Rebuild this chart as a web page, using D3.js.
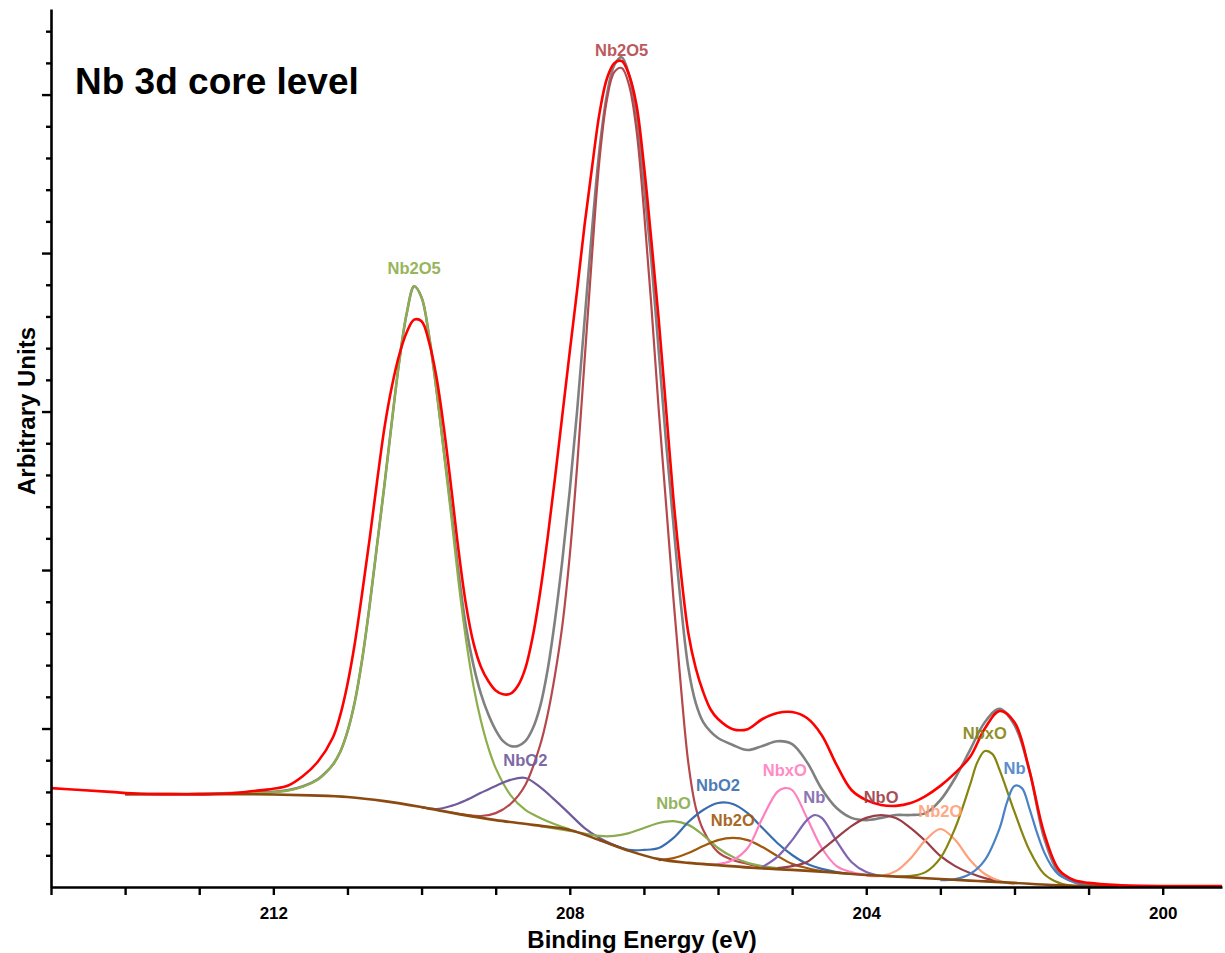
<!DOCTYPE html>
<html>
<head>
<meta charset="utf-8">
<script src="https://cdn.jsdelivr.net/npm/d3@7"></script>
<style>
  body { margin: 0; background: #fff; }
  svg { display: block; }
</style>
</head>
<body>
<svg width="1225" height="953"></svg>
<script>
// Binding energy (eV) vs intensity (arbitrary units)

const xTickLabels = [212, 208, 204, 200];

// measured spectrum (red)
const measured = [
  [215, 3.12], [214.6, 3.06], [214.2, 3.0], [213.8, 2.94], [213.4, 2.93], [213, 2.93],
  [212.6, 2.95], [212.3, 3.02], [212, 3.1], [211.8, 3.2], [211.6, 3.5], [211.4, 3.95],
  [211.2, 4.7], [211.1, 5.4], [211, 6.4], [210.9, 7.7], [210.8, 9.3], [210.7, 11.0],
  [210.6, 12.8], [210.5, 14.5], [210.4, 15.8], [210.3, 16.8], [210.2, 17.5], [210.1, 17.9],
  [210, 17.85], [209.9, 17.2], [209.8, 16.1], [209.7, 14.5], [209.6, 12.6], [209.5, 10.6],
  [209.4, 8.9], [209.3, 7.7], [209.2, 6.95], [209.1, 6.5], [209, 6.2], [208.9, 6.08],
  [208.8, 6.1], [208.7, 6.35], [208.6, 6.9], [208.5, 7.9], [208.4, 9.3], [208.3, 11.0],
  [208.2, 12.9], [208.1, 14.9], [208, 16.9], [207.9, 18.85], [207.8, 20.9], [207.7, 22.7],
  [207.6, 24.4], [207.5, 25.5], [207.4, 25.99], [207.3, 26.06], [207.2, 25.62], [207.1, 24.67],
  [207, 22.77], [206.9, 20.41], [206.8, 17.89], [206.7, 15.05], [206.6, 12.2], [206.5, 9.9],
  [206.4, 8.0], [206.3, 6.9], [206.2, 6.15], [206.1, 5.6], [206, 5.3], [205.8, 4.98],
  [205.6, 4.98], [205.4, 5.3], [205.2, 5.49], [205, 5.52], [204.8, 5.33], [204.6, 4.79],
  [204.4, 3.85], [204.2, 3.06], [204, 2.74], [203.8, 2.59], [203.6, 2.56], [203.4, 2.65],
  [203.2, 2.87], [203, 3.19], [202.8, 3.6], [202.6, 4.1], [202.4, 5.0], [202.2, 5.55],
  [202, 5.2], [201.8, 3.69], [201.6, 1.7], [201.4, 0.54], [201.2, 0.22], [201, 0.13],
  [200.6, 0.06], [200, 0.03], [199.2, 0.03]
];

// fitted envelope (grey)
const envelope = [
  [214, 2.93], [213, 2.93], [212.5, 2.97], [212, 3.0], [211.8, 3.06], [211.6, 3.18],
  [211.4, 3.4], [211.3, 3.6], [211.2, 3.85], [211.1, 4.25], [211, 4.9], [210.9, 5.85],
  [210.8, 7.2], [210.7, 8.9], [210.6, 10.8], [210.5, 12.7], [210.4, 14.7], [210.3, 16.6],
  [210.2, 18.1], [210.1, 18.95], [210, 18.6], [209.9, 17.4], [209.8, 15.7], [209.7, 13.8],
  [209.6, 11.9], [209.5, 9.9], [209.4, 8.2], [209.3, 7.0], [209.2, 6.1], [209.1, 5.45],
  [209, 4.95], [208.9, 4.6], [208.8, 4.45], [208.7, 4.45], [208.6, 4.6], [208.5, 5.0],
  [208.4, 5.7], [208.3, 6.84], [208.2, 8.42], [208.1, 10.32], [208, 12.52], [207.9, 15.05],
  [207.8, 17.89], [207.7, 20.73], [207.6, 23.25], [207.5, 24.98], [207.4, 25.93], [207.3, 26.18],
  [207.2, 25.62], [207.1, 24.35], [207, 22.15], [206.9, 19.78], [206.8, 16.9], [206.7, 14.0],
  [206.6, 11.4], [206.5, 8.9], [206.4, 6.9], [206.3, 5.8], [206.2, 5.2], [206.1, 4.9],
  [206, 4.7], [205.8, 4.48], [205.6, 4.32], [205.4, 4.45], [205.2, 4.6], [205, 4.51],
  [204.8, 3.94], [204.6, 3.09], [204.4, 2.49], [204.2, 2.18], [204, 2.11], [203.8, 2.18],
  [203.6, 2.27], [203.4, 2.27], [203.2, 2.33], [203, 2.74], [202.8, 3.44], [202.6, 4.32],
  [202.4, 5.2], [202.2, 5.62], [202, 5.11], [201.8, 3.69], [201.6, 1.55], [201.4, 0.44],
  [201.2, 0.16], [201, 0.06], [200.6, 0.03]
];

// Shirley-type background (brown)
const background = [
  [214, 2.93], [213.5, 2.93], [213, 2.93], [212.5, 2.93], [212, 2.92], [211.5, 2.89],
  [211, 2.84], [210.5, 2.71], [210, 2.52], [209.5, 2.3], [209, 2.11], [208.5, 1.96],
  [208, 1.8], [207.6, 1.48], [207.2, 1.14], [206.8, 0.88], [206.4, 0.76], [206, 0.69],
  [205.5, 0.6], [205, 0.54], [204.5, 0.47], [204, 0.38], [203.5, 0.32], [203, 0.25],
  [202.5, 0.19], [202, 0.13], [201.5, 0.06], [201, 0.03], [200.6, 0.02]
];

// fitted components (each drawn on top of the background)
const nb2o5High = [
  [213, 2.93], [212.5, 2.95], [212, 2.99], [211.8, 3.04], [211.6, 3.16], [211.4, 3.38],
  [211.3, 3.58], [211.2, 3.85], [211.1, 4.25], [211, 4.9], [210.9, 5.85], [210.8, 7.2],
  [210.7, 8.9], [210.6, 10.8], [210.5, 12.7], [210.4, 14.7], [210.3, 16.6], [210.2, 18.1],
  [210.1, 18.95], [210, 18.6], [209.9, 17.4], [209.8, 15.7], [209.7, 13.7], [209.6, 11.7],
  [209.5, 9.6], [209.4, 7.8], [209.3, 6.35], [209.2, 5.25], [209.1, 4.4], [209, 3.75],
  [208.8, 2.9], [208.6, 2.43], [208.4, 2.18], [208.2, 1.98], [208, 1.82]
];
const nbo2High = [
  [210, 2.52], [209.8, 2.46], [209.6, 2.56], [209.4, 2.74], [209.2, 2.97], [209, 3.19],
  [208.8, 3.38], [208.6, 3.44], [208.4, 3.15], [208.2, 2.74], [208, 2.3], [207.8, 1.86],
  [207.6, 1.55], [207.4, 1.32], [207.2, 1.14]
];
const nb2o5Low = [
  [209.6, 2.35], [209.2, 2.24], [209, 2.33], [208.8, 2.62], [208.6, 3.22], [208.4, 4.48],
  [208.3, 5.43], [208.2, 6.69], [208.1, 8.26], [208, 10.47], [207.9, 13.31], [207.8, 16.62],
  [207.7, 19.94], [207.6, 22.93], [207.5, 24.83], [207.4, 25.71], [207.3, 25.84], [207.2, 25.3],
  [207.1, 23.88], [207, 21.36], [206.9, 18.36], [206.8, 15.05], [206.7, 12.05], [206.6, 9.05],
  [206.5, 6.3], [206.4, 3.9], [206.3, 2.5], [206.2, 1.8], [206, 1.1], [205.8, 0.85],
  [205.6, 0.73], [205.4, 0.63]
];
const nboHigh = [
  [208.4, 1.92], [208, 1.77], [207.6, 1.61], [207.4, 1.61], [207.2, 1.7], [207, 1.86],
  [206.8, 2.02], [206.6, 2.08], [206.4, 1.96], [206.2, 1.64], [206, 1.23], [205.8, 0.95],
  [205.6, 0.76], [205.4, 0.66], [205.2, 0.6]
];
const nbo2Low = [
  [207.6, 1.48], [207.4, 1.32], [207.2, 1.17], [207, 1.17], [206.8, 1.23], [206.6, 1.55],
  [206.4, 2.05], [206.2, 2.43], [206, 2.65], [205.8, 2.62], [205.6, 2.33], [205.4, 1.86],
  [205.2, 1.39], [205, 1.01], [204.8, 0.73], [204.6, 0.57], [204.4, 0.47], [204.2, 0.41]
];
const nb2oHigh = [
  [206.8, 0.85], [206.6, 0.91], [206.4, 1.07], [206.2, 1.29], [206, 1.48], [205.8, 1.55],
  [205.6, 1.48], [205.4, 1.26], [205.2, 0.98], [205, 0.73], [204.8, 0.6], [204.6, 0.5]
];
const nbxoHigh = [
  [206.2, 0.73], [206, 0.72], [205.8, 0.85], [205.6, 1.23], [205.4, 2.18], [205.2, 3.0],
  [205.1, 3.12], [205, 3.06], [204.8, 2.18], [204.6, 1.23], [204.4, 0.66], [204.2, 0.47],
  [204, 0.38]
];
const nbHigh = [
  [205.4, 0.63], [205.2, 0.95], [205, 1.48], [204.8, 2.11], [204.7, 2.27], [204.6, 2.18],
  [204.4, 1.45], [204.2, 0.79], [204, 0.47], [203.8, 0.35]
];
const nboLow = [
  [205.2, 0.6], [205, 0.66], [204.8, 0.79], [204.6, 1.17], [204.4, 1.55], [204.2, 1.92],
  [204, 2.18], [203.8, 2.27], [203.6, 2.18], [203.4, 1.86], [203.2, 1.45], [203, 0.98],
  [202.8, 0.66], [202.6, 0.44], [202.4, 0.28], [202.2, 0.19]
];
const nb2oLow = [
  [204, 0.36], [203.8, 0.35], [203.6, 0.5], [203.4, 0.91], [203.2, 1.48], [203, 1.83],
  [202.8, 1.48], [202.6, 0.85], [202.4, 0.41], [202.2, 0.19], [202, 0.09]
];
const nbxoLow = [
  [203.6, 0.32], [203.4, 0.35], [203.2, 0.47], [203, 0.91], [202.8, 1.86], [202.6, 3.22],
  [202.5, 3.94], [202.4, 4.29], [202.3, 4.2], [202.2, 3.69], [202, 2.37], [201.8, 1.17],
  [201.6, 0.41], [201.4, 0.13], [201.2, 0.03]
];
const nbLow = [
  [203, 0.22], [202.8, 0.25], [202.6, 0.41], [202.4, 0.85], [202.2, 1.86], [202.1, 2.68],
  [202, 3.19], [201.9, 3.12], [201.8, 2.49], [201.7, 1.74], [201.6, 1.1], [201.5, 0.66],
  [201.4, 0.38], [201.2, 0.16], [201, 0.06], [200.6, 0.03]
];

const componentNames = ["Nb2O5", "NbO2", "Nb2O5", "NbO", "NbO2", "Nb2O", "NbxO", "Nb", "NbO", "Nb2O", "NbxO", "Nb"];
const componentSeries = [nb2o5High, nbo2High, nb2o5Low, nboHigh, nbo2Low, nb2oHigh, nbxoHigh, nbHigh, nboLow, nb2oLow, nbxoLow, nbLow];
const componentColors = ["#8cae4c", "#6f5a9c", "#b5484c", "#8aab50", "#3a6daf", "#a0580c", "#ff80c0", "#8066b0", "#9b3d47", "#ffa07a", "#858510", "#4a82c6"];

const svg = d3.select("svg");
const font = "'Liberation Sans', Arial, Helvetica, sans-serif";

const x = d3.scaleLinear().domain([215, 199.2]).range([51, 1222]);
const y = d3.scaleLinear().domain([0, 27.7]).range([887, 9]);

const line = d3.line()
  .x(d => x(d[0]))
  .y(d => y(d[1]))
  .curve(d3.curveCatmullRom.alpha(0.5));

// grey fit envelope sits under the components
svg.append("path")
  .attr("d", line(envelope))
  .attr("fill", "none")
  .attr("stroke", "#808080")
  .attr("stroke-width", 2.6);

svg.selectAll("path.comp")
  .data(componentSeries)
  .enter()
  .append("path")
  .attr("class", "comp")
  .attr("d", d => line(d))
  .attr("fill", "none")
  .attr("stroke", (d, i) => componentColors[i])
  .attr("stroke-width", 2.2);

svg.append("path")
  .attr("d", line(background))
  .attr("fill", "none")
  .attr("stroke", "#8b4a10")
  .attr("stroke-width", 2.6);

svg.append("path")
  .attr("d", line(measured))
  .attr("fill", "none")
  .attr("stroke", "#ff0000")
  .attr("stroke-width", 2.6);

// labels above each component maximum
svg.selectAll("text.lbl")
  .data(componentSeries)
  .enter()
  .append("text")
  .attr("class", "lbl")
  .attr("x", d => x(d3.greatest(d, p => p[1])[0]))
  .attr("y", d => y(d3.max(d, p => p[1])) - 12)
  .attr("text-anchor", "middle")
  .attr("font-family", font)
  .attr("font-weight", "bold")
  .attr("font-size", "16.5px")
  .attr("fill", (d, i) => componentColors[i])
  .attr("opacity", 0.9)
  .text((d, i) => componentNames[i]);

// axes
const xAxis = d3.axisBottom(x)
  .tickValues(d3.range(215, 199, -1))
  .tickFormat(d => (xTickLabels.includes(d) ? d : ""))
  .tickSize(8)
  .tickSizeOuter(0)
  .tickPadding(12);

const gx = svg.append("g").attr("transform", "translate(0,887)").call(xAxis);
gx.select(".domain").attr("stroke", "#000").attr("stroke-width", 2.6);
gx.selectAll(".tick line").attr("stroke", "#000").attr("stroke-width", 2.4);
gx.selectAll(".tick text")
  .attr("font-family", font)
  .attr("font-weight", "bold")
  .attr("font-size", "17px")
  .attr("fill", "#000");

const yAxis = d3.axisLeft(y)
  .tickValues(d3.range(1, 28))
  .tickFormat("")
  .tickSizeOuter(0);

const gy = svg.append("g").attr("transform", "translate(51,0)").call(yAxis);
gy.select(".domain").attr("stroke", "#000").attr("stroke-width", 2.6);
gy.selectAll(".tick line")
  .attr("stroke", "#000")
  .attr("stroke-width", 2.4)
  .attr("x2", d => (d % 5 === 0 ? -9 : -5));

// titles
svg.append("text")
  .attr("x", 75)
  .attr("y", 94)
  .attr("font-family", font)
  .attr("font-weight", "bold")
  .attr("font-size", "37px")
  .text("Nb 3d core level");

svg.append("text")
  .attr("x", 642)
  .attr("y", 948)
  .attr("text-anchor", "middle")
  .attr("font-family", font)
  .attr("font-weight", "bold")
  .attr("font-size", "24px")
  .text("Binding Energy (eV)");

svg.append("text")
  .attr("transform", "translate(35,411) rotate(-90)")
  .attr("text-anchor", "middle")
  .attr("font-family", font)
  .attr("font-weight", "bold")
  .attr("font-size", "24px")
  .text("Arbitrary Units");
</script>
</body>
</html>
